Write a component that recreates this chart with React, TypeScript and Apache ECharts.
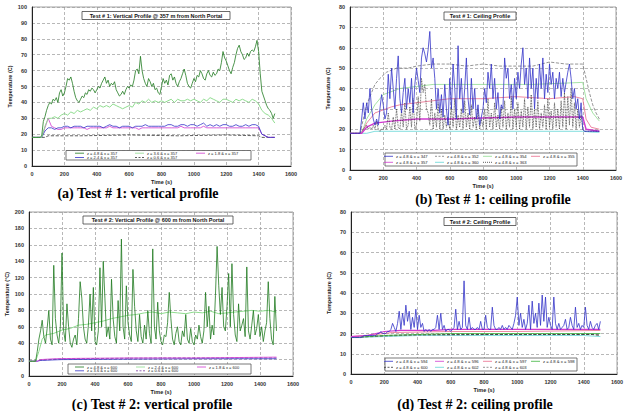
import React, { useEffect, useRef } from "react";
import * as echarts from "echarts";

// ---------- shared axis ticks ----------
const timeTicksMax = 1600;
const timeInterval = 200;

// ---------- Panel (a): Test #1 vertical profile @ 357 m ----------
// 10 s step
const aZ48 = [
  18, 18, 18, 18, 18, 18, 19, 28, 31, 35,
  38, 40, 39, 42, 41, 43, 40, 46, 48, 44,
  46, 50, 55, 54, 56, 52, 47, 43, 41, 40,
  42, 44, 43, 46, 45, 48, 47, 49, 48, 46,
  48, 50, 49, 52, 54, 56, 52, 54, 50, 52,
  51, 53, 48, 46, 44, 45, 47, 45, 48, 50,
  49, 51, 50, 54, 60, 61, 58, 69, 60, 55,
  52, 50, 55, 53, 50, 52, 48, 49, 46, 45,
  50, 55, 52, 54, 51, 57, 58, 54, 56, 52,
  50, 53, 55, 58, 61, 57, 52, 50, 49, 52,
  55, 53, 57, 56, 60, 58, 55, 54, 58, 60,
  57, 56, 59, 57, 58, 61, 60, 65, 72, 68,
  66, 63, 60, 58, 62, 65, 70, 74, 76, 72,
  70, 67, 68, 71, 69, 72, 73, 72, 75, 79,
  72, 58, 47, 44, 41, 38, 36, 35, 33, 30,
  33,
];
// 20 s step
const aZ36 = [
  18, 18, 18, 18, 25, 30, 30, 31, 30, 32,
  33, 32, 34, 33, 35, 34, 35, 36, 35, 37,
  36, 38, 37, 38, 37, 39, 38, 37, 36, 37,
  38, 37, 40, 39, 41, 40, 42, 40, 41, 40,
  41, 40, 41, 42, 40, 42, 41, 41, 42, 41,
  42, 41, 40, 42, 41, 43, 42, 41, 40, 42,
  42, 41, 40, 42, 41, 42, 41, 40, 42, 41,
  39, 35, 33, 32, 30, 27,
];
const aZ24 = [
  18, 18, 18, 18, 22, 24, 24, 23, 24, 24,
  25, 25, 24, 25, 25, 25, 24, 25, 25, 25,
  25, 25, 24, 25, 26, 25, 25, 24, 25, 25,
  25, 24, 25, 25, 25, 26, 25, 25, 25, 25,
  25, 25, 26, 26, 25, 25, 26, 26, 25, 26,
  26, 25, 26, 27, 25, 26, 25, 26, 25, 26,
  26, 25, 25, 26, 25, 25, 26, 25, 26, 26,
  25, 20, 19, 18, 18, 18,
];
const aZ18 = [
  18, 18, 18, 18, 24, 30, 25, 24, 23, 23,
  24, 24, 24, 24, 24, 24, 24, 23, 24, 24,
  24, 24, 24, 24, 25, 24, 24, 24, 24, 24,
  24, 24, 24, 23, 24, 24, 24, 24, 24, 24,
  24, 24, 24, 24, 24, 24, 25, 24, 24, 24,
  24, 24, 24, 25, 24, 24, 24, 24, 24, 24,
  24, 24, 24, 24, 24, 24, 24, 24, 24, 24,
  24, 20, 19, 18, 18, 18,
];
const aZ06: [number, number][] = [
  [0, 18], [80, 18], [100, 19], [300, 19], [600, 19.5], [900, 19], [1200, 19.5], [1400, 19], [1420, 18], [1500, 18],
];
const aLegend = [
  "z = 4.8 & x = 357", "z = 3.6 & x = 357", "z = 1.8 & x = 357",
  "z = 2.4 & x = 357", "z = 0.6 & x = 357",
];

// ---------- Panel (b): Test #1 ceiling profile ----------
// 10 s step
const bBlue = [
  18, 18, 18, 18, 18, 18, 18, 25, 33, 25,
  33, 28, 40, 30, 25, 22, 25, 22, 30, 37,
  32, 25, 28, 47, 35, 50, 40, 30, 45, 56,
  35, 28, 38, 45, 30, 40, 33, 45, 28, 42,
  50, 44, 38, 55, 60, 57, 53, 59, 68, 50,
  55, 45, 30, 40, 28, 37, 26, 42, 30, 22,
  45, 30, 52, 40, 25, 61, 35, 45, 28, 40,
  55, 35, 27, 45, 30, 40, 25, 32, 22, 26,
  30, 40, 33, 48, 40, 52, 35, 45, 30, 38,
  25, 32, 30, 55, 45, 50, 35, 42, 30, 45,
  35, 48, 40, 52, 60, 42, 50, 35, 55, 40,
  50, 30, 45, 35, 52, 40, 55, 35, 47, 38,
  52, 42, 48, 35, 45, 40, 48, 36, 45, 38,
  43, 48, 52, 45, 35, 40, 30, 35, 25, 33,
  20, 19, 19, 19, 19, 19, 19, 19, 19, 19,
  19,
];
const bBlackDotted = [
  18, 18, 18, 18, 18, 18, 18, 19, 20, 21,
  22, 20, 21, 20, 22, 20, 24, 20, 19, 20,
  20, 22, 20, 28, 21, 20, 26, 20, 30, 21,
  20, 29, 21, 33, 20, 22, 31, 21, 35, 20,
  22, 36, 24, 45, 38, 42, 30, 28, 22, 35,
  20, 28, 21, 33, 20, 30, 20, 27, 21, 26,
  20, 31, 21, 35, 20, 27, 21, 30, 20, 34,
  21, 28, 20, 32, 21, 26, 20, 30, 20, 25,
  21, 30, 20, 35, 21, 28, 20, 33, 21, 27,
  20, 31, 21, 34, 20, 28, 21, 36, 20, 30,
  21, 33, 20, 29, 21, 35, 20, 31, 21, 37,
  20, 30, 21, 34, 20, 28, 21, 32, 20, 35,
  21, 29, 20, 33, 21, 30, 20, 34, 21, 38,
  20, 36, 22, 40, 21, 33, 20, 30, 21, 27,
  20, 19, 19, 19, 19, 19, 19, 19, 19, 19,
  19,
];
const bGray: [number, number][] = [
  [0, 18], [60, 18], [80, 25], [100, 32], [130, 38], [150, 42], [180, 45], [220, 48], [280, 50], [350, 50],
  [400, 51], [500, 52], [600, 52], [700, 51], [800, 52], [900, 51], [1000, 51], [1100, 51], [1150, 52],
  [1200, 53], [1300, 52], [1400, 52], [1420, 45], [1440, 38], [1460, 32], [1480, 28], [1500, 25],
];
const bLightGreen: [number, number][] = [
  [0, 18], [70, 18], [100, 25], [150, 32], [200, 37], [300, 40], [400, 41], [500, 42], [800, 42],
  [1100, 42], [1400, 43], [1420, 35], [1460, 28], [1500, 24],
];
const bRed: [number, number][] = [
  [0, 18], [70, 18], [100, 23], [150, 28], [250, 31], [300, 32], [400, 33], [500, 34], [600, 35],
  [800, 35], [1000, 36], [1200, 35], [1350, 36], [1400, 35], [1420, 25], [1450, 21], [1500, 20],
];
const bMagenta: [number, number][] = [
  [0, 18], [70, 18], [100, 21], [150, 23], [250, 24], [400, 25], [600, 25], [800, 25.5], [1000, 26],
  [1200, 26], [1400, 26], [1420, 20], [1500, 19],
];
const bCyan: [number, number][] = [
  [0, 18], [100, 18], [150, 19], [1400, 19], [1450, 18.6], [1500, 18.5],
];
const bLegend = [
  "z = 4.8 & x = 347", "z = 4.8 & x = 352", "z = 4.8 & x = 354", "z = 4.8 & x = 355",
  "z = 4.8 & x = 357", "z = 4.8 & x = 360", "z = 4.8 & x = 363",
];

// ---------- Panel (c): Test #2 vertical profile @ 600 m ----------
// 10 s step
const cZ48 = [
  18, 18, 18, 18, 18, 30, 45, 55, 68, 48,
  40, 58, 80, 45, 38, 135, 70, 50, 40, 60,
  150, 55, 42, 88, 60, 40, 35, 45, 50, 38,
  70, 115, 95, 60, 45, 40, 62, 100, 55, 108,
  42, 38, 55, 132, 60, 140, 95, 48, 60, 45,
  118, 70, 48, 40, 92, 55, 167, 60, 45, 110,
  65, 50, 42, 130, 85, 55, 42, 75, 48, 40,
  62, 45, 80, 52, 40, 155, 60, 45, 90, 55,
  42, 38, 50, 48, 65, 102, 70, 45, 38, 52,
  60, 42, 38, 55, 48, 75, 45, 40, 58, 42,
  38, 50, 45, 62, 48, 40, 55, 102, 60, 85,
  45, 62, 50, 98, 158, 110, 75, 108, 60, 55,
  85, 125, 60, 137, 75, 50, 42, 88, 55, 62,
  70, 48, 133, 55, 45, 62, 80, 50, 58, 75,
  48, 60, 42, 55, 65, 115, 70, 45, 38, 97,
  55,
];
const cZ36: [number, number][] = [
  [0, 18], [40, 18], [60, 30], [80, 45], [100, 50], [150, 52], [200, 56], [250, 58], [300, 62],
  [350, 63], [400, 65], [450, 67], [500, 70], [550, 72], [600, 74], [650, 75], [700, 77], [750, 78],
  [800, 76], [850, 78], [900, 77], [950, 76], [1000, 78], [1050, 77], [1100, 79], [1150, 76],
  [1200, 77], [1250, 78], [1300, 79], [1350, 80], [1400, 79], [1450, 80], [1500, 78],
];
const cZ18: [number, number][] = [
  [0, 18], [50, 18], [70, 20], [150, 21], [300, 21.5], [600, 22], [1000, 22], [1500, 23],
];
const cZ24: [number, number][] = [
  [0, 18], [50, 18], [70, 19], [200, 20], [600, 20.5], [1000, 21], [1500, 21],
];
const cZ06: [number, number][] = [
  [0, 18], [60, 19], [200, 21], [800, 22], [1500, 22],
];
const cLegend = [
  "z = 4.8 & x = 600", "z = 2.4 & x = 600", "z = 1.8 & x = 600",
  "z = 3.6 & x = 600", "z = 0.6 & x = 600",
];

// ---------- Panel (d): Test #2 ceiling profile ----------
// 10 s step
const dBlue = [
  18, 18, 18, 18, 18, 18, 18, 18.5, 19, 19,
  19, 19, 19, 19, 19, 19, 20, 20, 21, 20,
  20, 20, 21, 21, 22, 25, 23, 21, 25, 31,
  22, 30, 24, 34, 26, 31, 22, 28, 23, 32,
  22, 29, 23, 25, 21, 22, 21, 22, 21, 22,
  22, 23, 29, 22, 30, 22, 24, 21, 22, 22,
  21, 22, 23, 32, 22, 26, 22, 23, 46, 24,
  22, 28, 22, 23, 22, 22, 23, 22, 26, 22,
  22, 29, 23, 22, 22, 33, 24, 22, 22, 23,
  22, 24, 22, 23, 22, 24, 23, 22, 25, 29,
  38, 24, 30, 23, 27, 22, 25, 34, 22, 36,
  25, 30, 23, 35, 24, 39, 26, 38, 23, 28,
  24, 22, 38, 25, 22, 25, 22, 23, 24, 27,
  22, 23, 28, 24, 22, 33, 23, 25, 22, 24,
  23, 33, 24, 22, 26, 23, 22, 24, 25, 22,
  26,
];
const dMagenta: [number, number][] = [
  [0, 18.5], [100, 19], [200, 21], [300, 21.5], [500, 21.5], [600, 22], [1000, 22], [1500, 22],
];
const dRed: [number, number][] = [
  [0, 18.5], [150, 19.5], [250, 20.5], [600, 21], [1000, 21], [1500, 21.5],
];
const dGreen: [number, number][] = [
  [0, 18], [200, 19], [400, 19.5], [600, 20], [1000, 20], [1500, 20],
];
const dBlack: [number, number][] = [
  [0, 18], [200, 19], [400, 19.5], [1000, 19.5], [1450, 19.5], [1500, 19],
];
const dCyan: [number, number][] = [
  [0, 18], [200, 18.5], [400, 19], [1400, 19], [1500, 18.5],
];
const dGray: [number, number][] = [
  [0, 18], [300, 19], [800, 19.5], [1500, 19.5],
];
const dLegend = [
  "z = 4.8 & x = 594", "z = 4.8 & x = 596", "z = 4.8 & x = 597", "z = 4.8 & x = 598",
  "z = 4.8 & x = 600", "z = 4.8 & x = 602", "z = 4.8 & x = 603",
];

const captions = [
  "(a) Test # 1: vertical profile",
  "(b) Test # 1: ceiling profile",
  "(c) Test # 2: vertical profile",
  "(d) Test # 2: ceiling profile",
];
const innerTitles = [
  "Test # 1: Vertical Profile @ 357 m from North Portal",
  "Test # 1: Ceiling Profile",
  "Test # 2: Vertical Profile @ 600 m from North Portal",
  "Test # 2: Ceiling Profile",
];

// ---------- helpers ----------
function steps(values: number[], step: number): [number, number][] {
  return values.map((v, i) => [i * step, v]);
}

const C = {
  dkGreen: "#1f7a1f",
  ltGreen: "#8fdc8f",
  blue: "#3434c8",
  magenta: "#d038d0",
  red: "#e86a8a",
  black: "#333333",
  gray: "#7a7a7a",
  cyan: "#62d6d6",
  purple: "#7a3aa0",
  green: "#3cb43c",
};

const FONT = "Arial, 'Liberation Sans', sans-serif";

function ln(name: string, data: [number, number][], idx: number, color: string, type: string = "solid", width = 0.8) {
  return {
    type: "line",
    name,
    xAxisIndex: idx,
    yAxisIndex: idx,
    data,
    showSymbol: false,
    symbol: "none",
    silent: true,
    lineStyle: { color, width, type },
    z: 3,
  };
}

type LegItem = { name: string; color: string; type?: string };

function legendGraphics(
  box: { x: number; y: number; w: number; h: number },
  cols: number[],
  rows: number[],
  perRow: number,
  items: LegItem[],
  fontSize: number,
) {
  const els: any[] = [
    {
      type: "rect",
      shape: { x: box.x, y: box.y, width: box.w, height: box.h },
      style: { fill: "#fff", stroke: "#555", lineWidth: 0.8 },
      z: 50,
    },
  ];
  items.forEach((it, i) => {
    const r = Math.floor(i / perRow);
    const c = i % perRow;
    const tx = cols[c];
    const ty = rows[r];
    els.push({
      type: "line",
      shape: { x1: tx - 12, y1: ty, x2: tx - 3, y2: ty },
      style: { stroke: it.color, lineWidth: 0.8, lineDash: it.type === "dashed" ? [2, 1.5] : it.type === "dotted" ? [1, 1] : null },
      z: 51,
    });
    els.push({
      type: "text",
      x: tx,
      y: ty,
      style: { text: it.name, fontSize, fontFamily: FONT, fill: "#222", textVerticalAlign: "middle", textAlign: "left" },
      z: 51,
    });
  });
  return els;
}

function titleBox(cx: number, cy: number, w: number, h: number, text: string) {
  return [
    {
      type: "rect",
      shape: { x: cx - w / 2, y: cy - h / 2, width: w, height: h },
      style: { fill: "#fff", stroke: "#444", lineWidth: 0.8 },
      z: 50,
    },
    {
      type: "text",
      x: cx,
      y: cy,
      style: { text, fontSize: 5.5, fontWeight: "bold", fontFamily: FONT, fill: "#111", textAlign: "center", textVerticalAlign: "middle" },
      z: 51,
    },
  ];
}

function caption(cx: number, cy: number, text: string) {
  return {
    type: "text",
    x: cx,
    y: cy,
    style: {
      text,
      fontSize: 14,
      fontWeight: "bold",
      fontFamily: "'Liberation Serif', 'Times New Roman', serif",
      fill: "#000",
      textAlign: "center",
      textVerticalAlign: "middle",
    },
  };
}

export default function App() {
  const ref = useRef<HTMLDivElement>(null);

  useEffect(() => {
    if (!ref.current) return;
    const chart = echarts.init(ref.current, null, { renderer: "svg" });

    const grids = [
      { left: 32, top: 7, width: 259, height: 159 },
      { left: 350, top: 7, width: 266, height: 163 },
      { left: 29, top: 212, width: 264, height: 164 },
      { left: 351, top: 212, width: 266, height: 162 },
    ];
    const yMax = [100, 80, 200, 80];
    const yInt = [10, 10, 20, 10];
    const yNames = ["Temperature (C)", "Temperature (C)", "Temperature (°C)", "Temperature (C)"];

    const splitLine = { show: true, lineStyle: { color: "#9a9a9a", width: 0.7, type: [3, 2] } };
    const axisLabel = {
      fontSize: 5.5,
      color: "#333",
      fontFamily: FONT,
      fontWeight: "bold",
      formatter: (v: number) => String(v),
    };

    const xAxis = grids.map((_, i) => ({
      type: "value",
      gridIndex: i,
      min: 0,
      max: timeTicksMax,
      interval: timeInterval,
      name: "Time (s)",
      nameLocation: "middle",
      nameGap: 13,
      nameTextStyle: { fontSize: 5.5, fontWeight: "bold", color: "#222", fontFamily: FONT },
      axisLine: { show: true, onZero: false, lineStyle: { color: "#222", width: 1 } },
      axisTick: { show: false },
      axisLabel: { ...axisLabel, margin: 5 },
      splitLine,
    }));
    const yAxis = grids.map((_, i) => ({
      type: "value",
      gridIndex: i,
      min: 0,
      max: yMax[i],
      interval: yInt[i],
      name: yNames[i],
      nameLocation: "middle",
      nameGap: 19,
      nameTextStyle: { fontSize: 5.5, fontWeight: "bold", color: "#222", fontFamily: FONT },
      axisLine: { show: true, lineStyle: { color: "#222", width: 1 } },
      axisTick: { show: false },
      axisLabel: { ...axisLabel, margin: 5 },
      splitLine,
    }));

    const series: any[] = [
      // (a)
      ln(aLegend[4], aZ06, 0, C.black, "dashed"),
      ln(aLegend[2], steps(aZ18, 20), 0, C.magenta),
      ln(aLegend[3], steps(aZ24, 20), 0, C.blue),
      ln(aLegend[1], steps(aZ36, 20), 0, C.ltGreen, "solid", 1),
      ln(aLegend[0], steps(aZ48, 10), 0, C.dkGreen),
      // (b)
      ln(bLegend[5], bCyan, 1, C.cyan),
      ln(bLegend[1], bGray, 1, C.gray, "dashed"),
      ln(bLegend[2], bLightGreen, 1, C.ltGreen),
      ln(bLegend[3], bRed, 1, C.red),
      ln(bLegend[4], bMagenta, 1, C.magenta, "solid", 1.4),
      ln(bLegend[6], steps(bBlackDotted, 10), 1, C.black, "dotted"),
      ln(bLegend[0], steps(bBlue, 10), 1, C.blue),
      // (c)
      ln(cLegend[4], cZ06, 2, C.purple, "dashed"),
      ln(cLegend[3], cZ24, 2, C.blue),
      ln(cLegend[2], cZ18, 2, C.magenta),
      ln(cLegend[1], cZ36, 2, C.ltGreen, "solid", 1),
      ln(cLegend[0], steps(cZ48, 10), 2, C.dkGreen),
      // (d)
      ln(dLegend[5], dCyan, 3, C.cyan),
      ln(dLegend[6], dGray, 3, C.gray, "dashed"),
      ln(dLegend[4], dBlack, 3, C.black, "dashed"),
      ln(dLegend[3], dGreen, 3, C.green),
      ln(dLegend[2], dRed, 3, C.red),
      ln(dLegend[1], dMagenta, 3, C.magenta, "solid", 1.2),
      ln(dLegend[0], steps(dBlue, 10), 3, C.blue),
    ];

    const aItems: LegItem[] = [
      { name: aLegend[0], color: C.dkGreen },
      { name: aLegend[1], color: C.ltGreen },
      { name: aLegend[2], color: C.magenta },
      { name: aLegend[3], color: C.blue },
      { name: aLegend[4], color: C.black, type: "dashed" },
    ];
    const bItems: LegItem[] = [
      { name: bLegend[0], color: C.blue },
      { name: bLegend[1], color: C.gray, type: "dashed" },
      { name: bLegend[2], color: C.ltGreen },
      { name: bLegend[3], color: C.red },
      { name: bLegend[4], color: C.magenta },
      { name: bLegend[5], color: C.cyan },
      { name: bLegend[6], color: C.black, type: "dotted" },
    ];
    const cItems: LegItem[] = [
      { name: cLegend[0], color: C.dkGreen },
      { name: cLegend[1], color: C.ltGreen },
      { name: cLegend[2], color: C.magenta },
      { name: cLegend[3], color: C.blue },
      { name: cLegend[4], color: C.purple, type: "dashed" },
    ];
    const dItems: LegItem[] = [
      { name: dLegend[0], color: C.blue },
      { name: dLegend[1], color: C.magenta },
      { name: dLegend[2], color: C.red },
      { name: dLegend[3], color: C.green },
      { name: dLegend[4], color: C.black, type: "dashed" },
      { name: dLegend[5], color: C.cyan },
      { name: dLegend[6], color: C.gray, type: "dashed" },
    ];

    const graphic: any[] = [
      ...titleBox(156, 15.5, 148, 8, innerTitles[0]),
      ...titleBox(480, 16, 72, 8, innerTitles[1]),
      ...titleBox(158, 220, 150, 8, innerTitles[2]),
      ...titleBox(480, 221.5, 72, 8, innerTitles[3]),
      ...legendGraphics({ x: 66, y: 150.5, w: 185, h: 9.5 }, [87, 147, 208], [153.2, 157.5], 3, aItems, 4),
      ...legendGraphics({ x: 385, y: 153, w: 192, h: 13 }, [396, 447, 495, 543], [156.3, 162.3], 4, bItems, 4.2),
      ...legendGraphics({ x: 68, y: 364, w: 183, h: 10 }, [87, 148, 209], [367, 370.8], 3, cItems, 4),
      ...legendGraphics({ x: 385, y: 358, w: 192, h: 13 }, [396, 447, 495, 543], [361.3, 367.3], 4, dItems, 4.2),
      caption(138, 193, captions[0]),
      caption(493, 199, captions[1]),
      caption(152, 404, captions[2]),
      caption(475, 404, captions[3]),
    ];

    chart.setOption({
      animation: false,
      backgroundColor: "#ffffff",
      grid: grids.map((g) => ({ ...g, show: true, borderColor: "#8a8a8a", borderWidth: 0.8, backgroundColor: "transparent" })),
      xAxis,
      yAxis,
      series,
      graphic,
    });

    return () => chart.dispose();
  }, []);

  return (
    <div
      ref={ref}
      style={{ position: "fixed", left: 0, top: 0, width: 629, height: 411, background: "#fff" }}
    />
  );
}
